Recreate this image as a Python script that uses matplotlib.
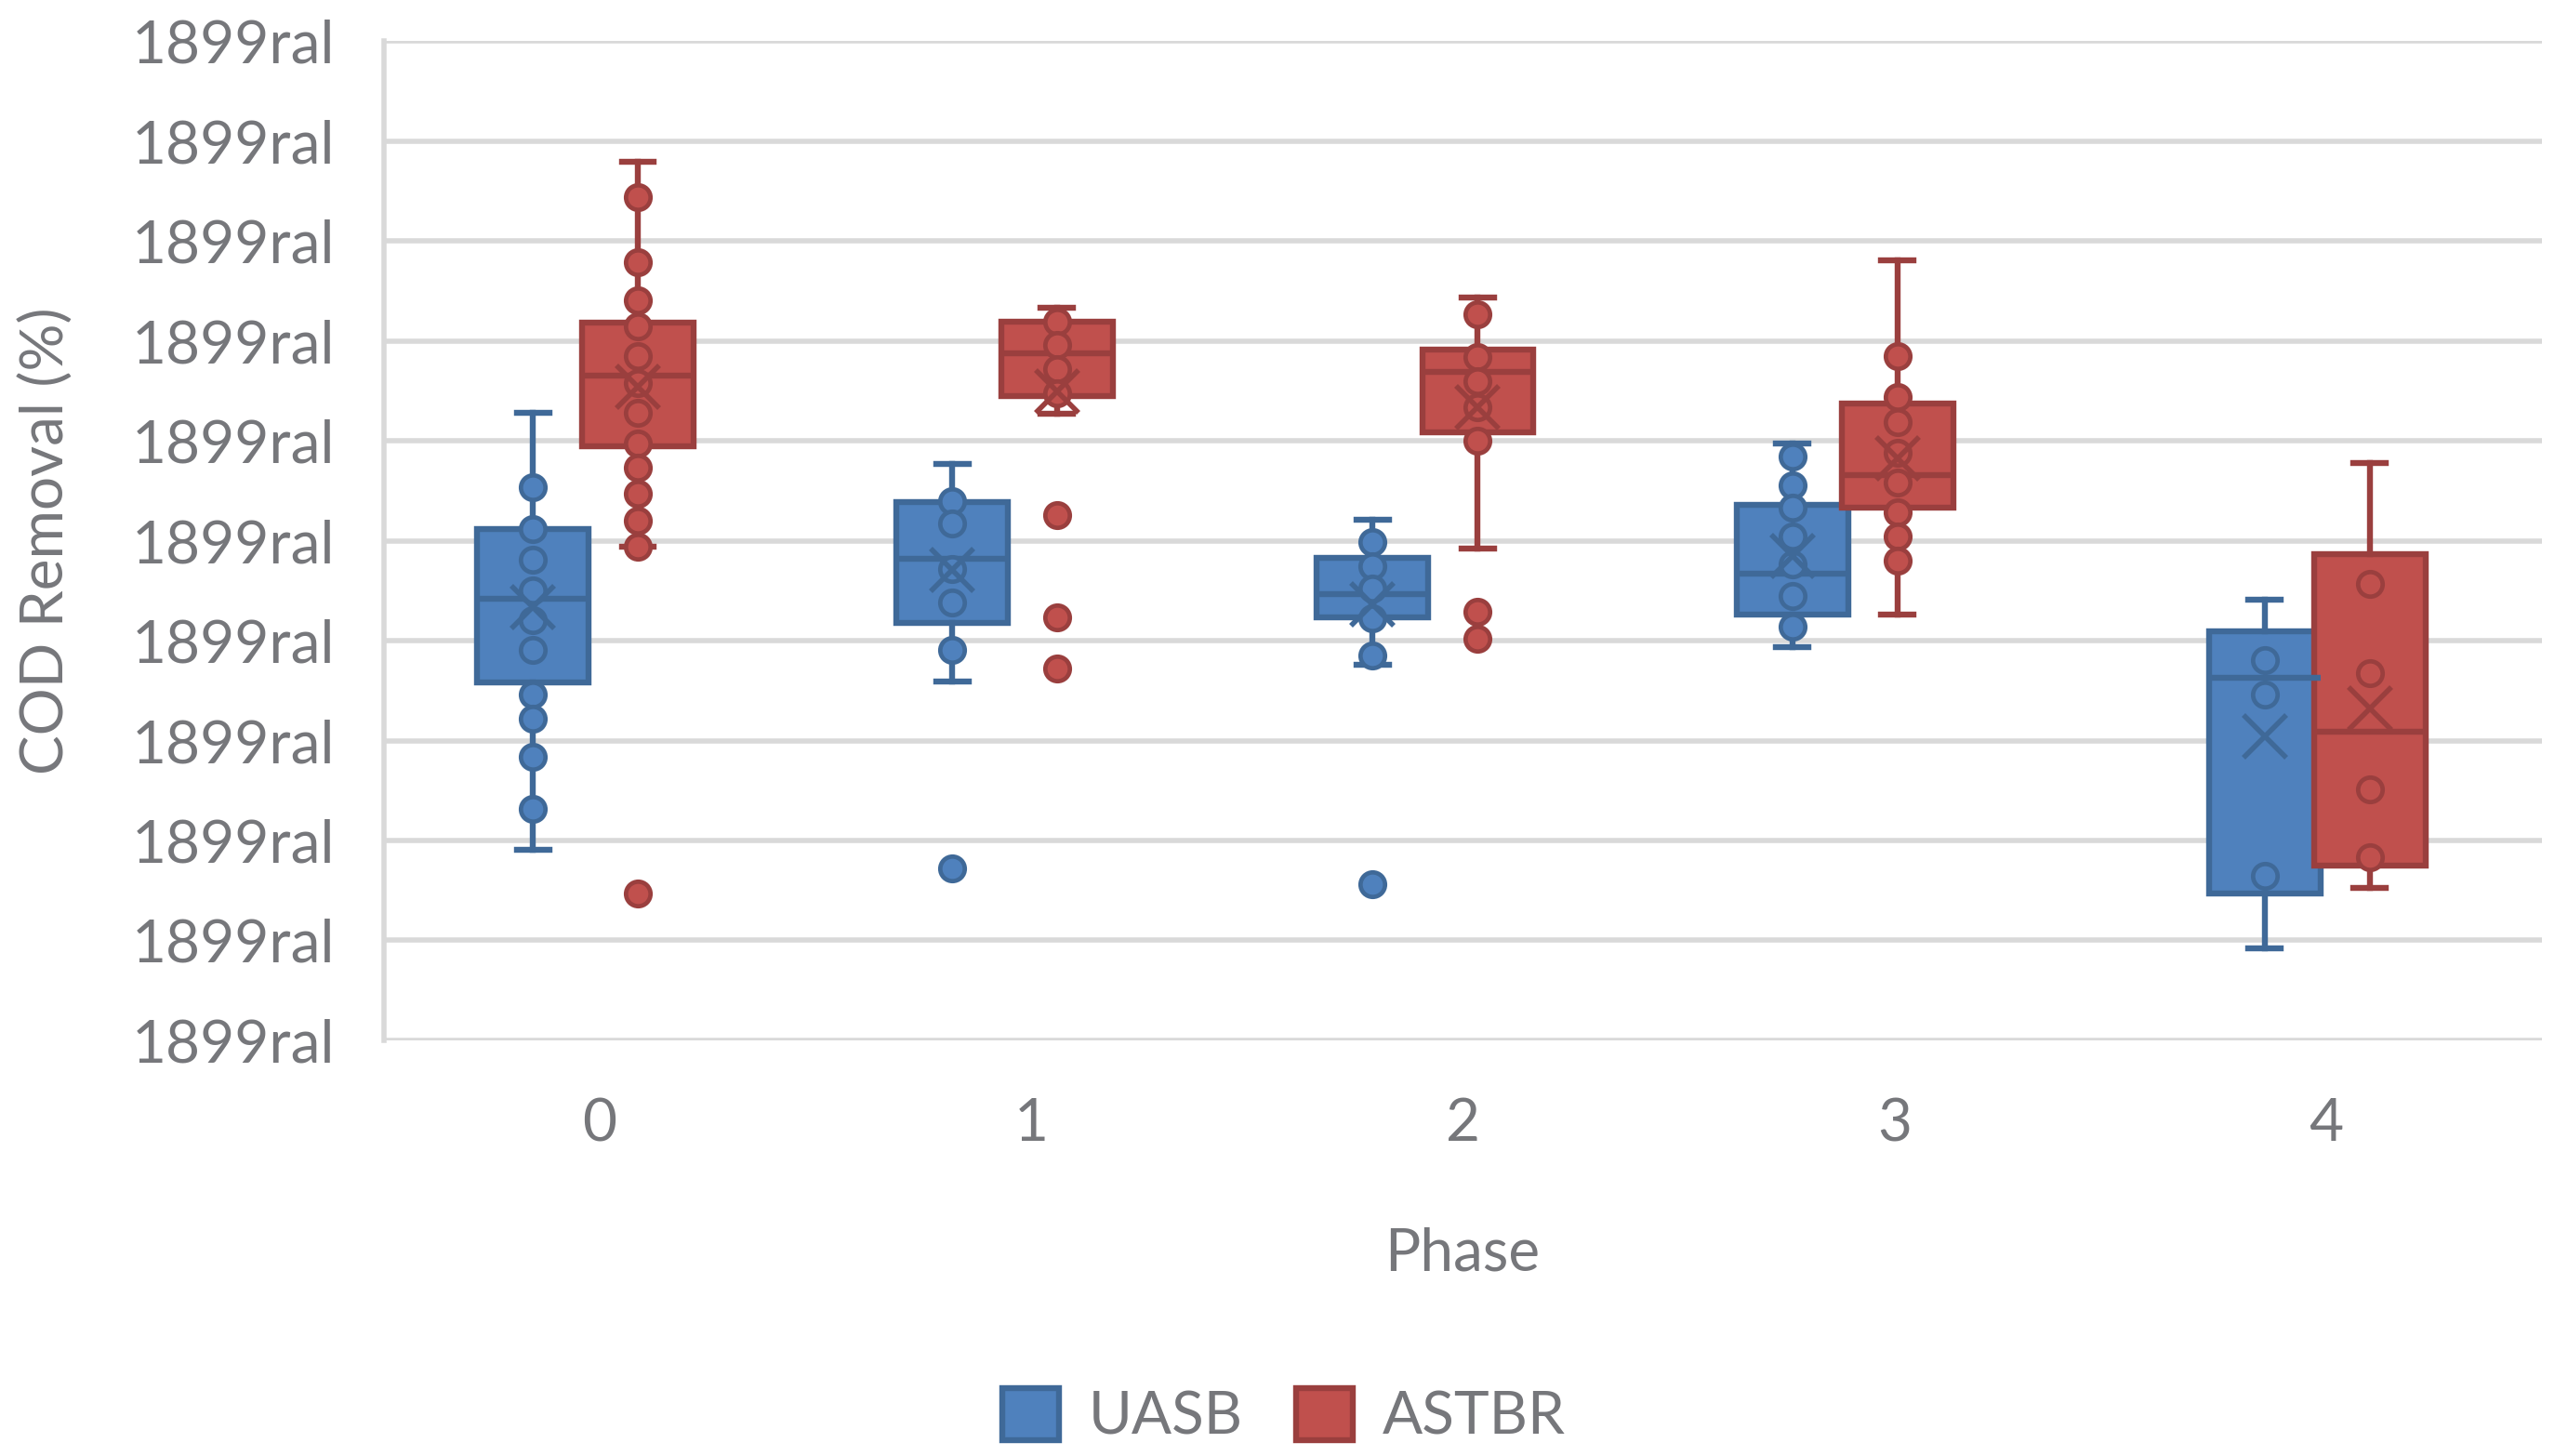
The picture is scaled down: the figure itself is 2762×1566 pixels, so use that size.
import matplotlib
matplotlib.use('Agg')
import matplotlib.pyplot as plt
from matplotlib.patches import Patch
import numpy as np

plt.rcParams['font.family'] = ['Lato', 'DejaVu Sans']

phases = ['0', '1', '2', '3', '4']
series = ['UASB', 'ASTBR']
ytick_labels = ['1899ral'] * 11

# UASB statistics (gridline units 0..10)
uasb_lo = [1.91, 3.59, 3.76, 3.94, 0.92]
uasb_q1 = [3.58, 4.18, 4.23, 4.26, 1.47]
uasb_med = [4.42, 4.82, 4.47, 4.67, 3.63]
uasb_q3 = [5.12, 5.39, 4.83, 5.36, 4.09]
uasb_hi = [6.28, 5.77, 5.21, 5.97, 4.41]
uasb_mean = [4.34, 4.71, 4.36, 4.85, 3.04]
uasb_points = [
    [5.54, 5.12, 4.81, 4.50, 4.21, 3.91, 3.46, 3.22, 2.84, 2.32],
    [5.40, 5.17, 4.72, 4.38, 3.91],
    [4.99, 4.75, 4.52, 4.22, 3.85],
    [5.84, 5.56, 5.33, 5.04, 4.76, 4.45, 4.14],
    [3.81, 3.46, 1.65],
]
uasb_out = [[], [1.72], [1.56], [], []]

# ASTBR statistics
astbr_lo = [4.94, 6.27, 4.92, 4.26, 1.53]
astbr_q1 = [5.95, 6.45, 6.09, 5.33, 1.75]
astbr_med = [6.65, 6.88, 6.69, 5.66, 3.09]
astbr_q3 = [7.18, 7.19, 6.91, 6.37, 4.87]
astbr_hi = [8.79, 7.33, 7.44, 7.81, 5.78]
astbr_mean = [6.54, 6.50, 6.34, 5.83, 3.32]
astbr_points = [
    [8.44, 7.79, 7.41, 7.15, 6.85, 6.58, 6.28, 5.97, 5.73, 5.47, 5.20, 4.94],
    [7.19, 6.96, 6.72, 6.48],
    [7.27, 6.84, 6.60, 6.34, 6.00],
    [6.85, 6.44, 6.19, 5.88, 5.58, 5.29, 5.04, 4.80],
    [4.57, 3.68, 2.51, 1.83],
]
astbr_out = [[1.47], [5.26, 4.23, 3.72], [4.29, 4.02], [], []]

# layout of boxes relative to the category ticks
uasb_pos = [-0.155, 0.817, 1.790, 2.763, 3.857]
astbr_pos = [0.088, 1.059, 2.034, 3.006, 4.100]

text_col = '#76777b'
grid_col = '#d9d9d9'
styles = {
    'UASB': dict(fill='#4f81bd', edge='#3f6998'),
    'ASTBR': dict(fill='#c0504d', edge='#9a3f3e'),
}

fig = plt.figure(figsize=(27.62, 15.66), dpi=100)
ax = fig.add_axes([0.1495, 0.2855, 0.8405, 0.6861])


def draw_series(name, lo, q1, med, q3, hi, mean, points, out, pos):
    fill = styles[name]['fill']
    edge = styles[name]['edge']
    stats = []
    for i in range(len(phases)):
        stats.append(dict(whislo=lo[i], q1=q1[i], med=med[i], q3=q3[i],
                          whishi=hi[i], mean=mean[i], fliers=out[i]))
    lw = 4.6
    ax.bxp(stats, positions=pos, widths=0.258, patch_artist=True,
           showmeans=True, showfliers=True, capwidths=0.075,
           boxprops=dict(facecolor=fill, edgecolor=edge, linewidth=lw),
           whiskerprops=dict(color=edge, linewidth=lw),
           capprops=dict(color=edge, linewidth=lw),
           medianprops=dict(color=edge, linewidth=lw),
           meanprops=dict(marker='x', markersize=33, markeredgecolor=edge,
                          markeredgewidth=4.0, zorder=5),
           flierprops=dict(marker='o', markersize=19, markerfacecolor=fill,
                           markeredgecolor=edge, markeredgewidth=3.4),
           zorder=2)
    for i, pts in enumerate(points):
        ax.plot(np.full(len(pts), pos[i]), pts, 'o', ms=19, mfc=fill,
                mec=edge, mew=3.4, zorder=4)


draw_series('UASB', uasb_lo, uasb_q1, uasb_med, uasb_q3, uasb_hi, uasb_mean,
            uasb_points, uasb_out, uasb_pos)
draw_series('ASTBR', astbr_lo, astbr_q1, astbr_med, astbr_q3, astbr_hi,
            astbr_mean, astbr_points, astbr_out, astbr_pos)

ax.set_xlim(-0.5, 4.5)
ax.set_ylim(0, 10)
ax.set_yticks(np.arange(11))
ax.set_yticklabels(ytick_labels)
ax.set_xticks(np.arange(len(phases)))
ax.set_xticklabels(phases)
ax.tick_params(axis='both', length=0, labelsize=46, colors=text_col)
ax.tick_params(axis='y', pad=38)
ax.tick_params(axis='x', pad=44)
ax.set_axisbelow(True)
ax.yaxis.grid(True, color=grid_col, linewidth=4.0)
for s in ['top', 'right', 'bottom']:
    ax.spines[s].set_visible(False)
ax.spines['left'].set_color(grid_col)
ax.spines['left'].set_linewidth(4.0)

fig.text(0.018, 0.6285, 'COD Removal (%)', rotation=90, ha='center',
         va='center', fontsize=46, color=text_col)
fig.text(0.5695, 0.139, 'Phase', ha='center', va='center', fontsize=46,
         color=text_col)

handles = [Patch(facecolor=styles[n]['fill'], edgecolor=styles[n]['edge'],
                 linewidth=4.6, label=n) for n in series]
fig.legend(handles=handles, loc='center', bbox_to_anchor=(0.5, 0.027),
           ncol=2, frameon=False, fontsize=46, labelcolor=text_col,
           handlelength=0.95, handleheight=0.95, handletextpad=0.5,
           columnspacing=0.9)

fig.savefig('out.png', dpi=100)
